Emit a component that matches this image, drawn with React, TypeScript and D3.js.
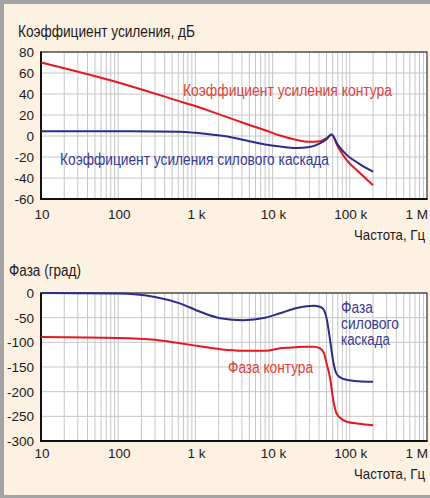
import React, { useEffect, useRef } from 'react';
import * as d3 from 'd3';

// gain plot, dB
const gainFreq = [10, 100, 630, 1000, 1800, 2800, 5000, 8000, 12500, 20000, 30000, 41000, 50000, 58000, 70000, 91000, 130000, 200000];
const loopGain = [70, 51, 33, 28.5, 22, 17, 10.5, 5.5, 0.5, -3.5, -5.5, -5, -2, 1.5, -10, -23, -34, -47];
const stageGain = [4.5, 4.5, 4, 3, 1, -1, -5, -8, -10, -11.5, -10.5, -7, -3, 1.5, -8.5, -18, -26, -34];

// phase plot, degrees
const phaseFreq = [10, 100, 300, 630, 1150, 2100, 4200, 8000, 12500, 20000, 27500, 34000, 41000, 46000, 50600, 55500, 61000, 67000, 75000, 91000, 130000, 200000];
const stagePhase = [0, -1, -8, -21, -38, -51, -55, -50, -41, -31, -27, -26, -28, -34, -55, -95, -139, -163, -171, -176, -179, -180];
const loopPhase = [-89, -91, -95, -102, -108, -114, -117, -117, -112, -110, -109, -109, -112, -121, -146, -172, -217, -243, -253, -261, -265, -268];

const freqTicks = [10, 100, 1000, 10000, 100000, 1000000];
const freqLabels = ['10', '100', '1 k', '10 k', '100 k', '1 M'];
const gainTicks = [80, 60, 40, 20, 0, -20, -40, -60];
const phaseTicks = [0, -50, -100, -150, -200, -250, -300];

const RED = '#e8161e';
const BLUE = '#2b2b8c';
const font = '"Liberation Sans", Arial, sans-serif';

const App = () => {
    const svgRef = useRef(null);

    useEffect(() => {
        const svg = d3.select(svgRef.current);
        svg.selectAll('*').remove();

        // page background and grey frame
        svg.append('rect').attr('width', 430).attr('height', 498).attr('fill', '#fdf1e2');
        svg.append('rect').attr('x', 0).attr('y', 0).attr('width', 430).attr('height', 4).attr('fill', '#a4a4a4');
        svg.append('rect').attr('x', 0).attr('y', 0).attr('width', 4).attr('height', 498).attr('fill', '#a4a4a4');
        svg.append('rect').attr('x', 0).attr('y', 495).attr('width', 430).attr('height', 3).attr('fill', '#a4a4a4');

        const x = d3.scaleLog().domain([10, 1e6]).range([41, 427]);

        // condensed labels: the original face is narrow, squeeze regular font to measured width
        const label = (tx, ty, str, width, color, anchor = 'start', size = 16) => svg.append('text')
            .attr('x', tx).attr('y', ty)
            .attr('text-anchor', anchor)
            .attr('font-family', font).attr('font-size', size)
            .attr('textLength', width).attr('lengthAdjust', 'spacingAndGlyphs')
            .attr('fill', color)
            .text(str);

        const drawPanel = (opts) => {
            const { top, bottom, domain, ticks, labelGap } = opts;
            const y = d3.scaleLinear().domain(domain).range([bottom, top]);
            const g = svg.append('g');

            g.append('rect')
                .attr('x', 41).attr('y', top)
                .attr('width', 427 - 41).attr('height', bottom - top)
                .attr('fill', '#fff');

            // vertical grid, 1..9 per decade
            const minor = [];
            for (let d = 10; d < 1e6; d *= 10) {
                for (let k = 1; k <= 9; k++) minor.push(d * k);
            }
            g.selectAll('.vgrid')
                .data(minor.slice(1))
                .join('line')
                .attr('x1', d => x(d)).attr('x2', d => x(d))
                .attr('y1', top).attr('y2', bottom)
                .attr('stroke', '#c6c6c6')
                .attr('stroke-width', 1);

            g.selectAll('.hgrid')
                .data(ticks)
                .join('line')
                .attr('x1', 41).attr('x2', 427)
                .attr('y1', d => y(d)).attr('y2', d => y(d))
                .attr('stroke', '#c6c6c6')
                .attr('stroke-width', 1);

            // frame
            g.append('rect')
                .attr('x', 41).attr('y', top)
                .attr('width', 427 - 41).attr('height', bottom - top)
                .attr('fill', 'none')
                .attr('stroke', '#333')
                .attr('stroke-width', 1.2);
            g.append('line').attr('x1', 41).attr('x2', 41).attr('y1', top - 0.5).attr('y2', bottom + 1)
                .attr('stroke', '#111').attr('stroke-width', 2);
            g.append('line').attr('x1', 40).attr('x2', 427.5).attr('y1', bottom).attr('y2', bottom)
                .attr('stroke', '#111').attr('stroke-width', 2);

            // y tick labels
            g.selectAll('.ylab')
                .data(ticks)
                .join('text')
                .attr('x', 34)
                .attr('y', d => y(d))
                .attr('dy', '0.36em')
                .attr('text-anchor', 'end')
                .attr('font-family', font)
                .attr('font-size', 13.5)
                .attr('fill', '#1a1a1a')
                .text(d => String(d));

            // x tick labels
            g.selectAll('.xlab')
                .data(freqTicks)
                .join('text')
                .attr('x', (d, i) => (i === freqTicks.length - 1 ? 428 : x(d) + 1))
                .attr('y', bottom + labelGap)
                .attr('text-anchor', (d, i) => (i === freqTicks.length - 1 ? 'end' : 'middle'))
                .attr('font-family', font)
                .attr('font-size', 13.5)
                .attr('fill', '#1a1a1a')
                .text((d, i) => freqLabels[i]);

            label(425, bottom + labelGap + 21, 'Частота, Гц', 71, '#1a1a1a', 'end', 15);

            return { g, y };
        };

        const line = (freq, y) => d3.line()
            .x((d, i) => x(freq[i]))
            .y(d => y(d))
            .curve(d3.curveMonotoneX);

        // ---- gain ----
        const gain = drawPanel({ top: 52, bottom: 199, domain: [-60, 80], ticks: gainTicks, labelGap: 20 });
        gain.g.append('path').datum(loopGain)
            .attr('fill', 'none').attr('stroke', RED).attr('stroke-width', 2)
            .attr('d', line(gainFreq, gain.y));
        gain.g.append('path').datum(stageGain)
            .attr('fill', 'none').attr('stroke', BLUE).attr('stroke-width', 2)
            .attr('d', line(gainFreq, gain.y));

        label(18, 37, 'Коэффициент усиления, дБ', 177, '#1a1a1a');
        label(183, 96, 'Коэффициент усиления контура', 209, '#e2403a');
        label(60, 165, 'Коэффициент усиления силового каскада', 269, '#3a3a98');

        // ---- phase ----
        const phase = drawPanel({ top: 293, bottom: 441, domain: [-300, 0], ticks: phaseTicks, labelGap: 17 });
        phase.g.append('path').datum(stagePhase)
            .attr('fill', 'none').attr('stroke', BLUE).attr('stroke-width', 2)
            .attr('d', line(phaseFreq, phase.y));
        phase.g.append('path').datum(loopPhase)
            .attr('fill', 'none').attr('stroke', RED).attr('stroke-width', 2)
            .attr('d', line(phaseFreq, phase.y));

        label(9, 276, 'Фаза (град)', 72, '#1a1a1a');
        label(228, 373, 'Фаза контура', 85, '#e2403a');
        label(341, 313, 'Фаза', 32, '#3a3a98');
        label(341, 329, 'силового', 58, '#3a3a98');
        label(341, 345, 'каскада', 49, '#3a3a98');
    }, []);

    return (
        <svg ref={svgRef} width="430" height="498" style={{ position: 'absolute', left: 0, top: 0 }}></svg>
    );
};

export default App;
